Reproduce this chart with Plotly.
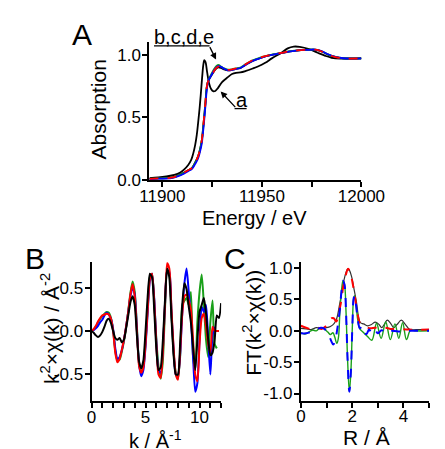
import plotly.graph_objects as go

W, H = 445, 449
FONT = "Liberation Sans"

# ---------------- Panel A data (XANES) ----------------
energy_a = [11893.5, 11898, 11902, 11906, 11909, 11911, 11913, 11914.5, 11915.5, 11916.5,
            11917.3, 11918, 11918.7, 11919.3, 11920, 11920.6, 11921.1, 11921.7, 11922.5, 11923.5,
            11924.5, 11925.5, 11926.6, 11928, 11930, 11932.9, 11935, 11937, 11939.2, 11942,
            11945.4, 11948, 11951.7, 11955, 11959.6, 11963, 11966, 11969, 11973.7, 11978,
            11981.6, 11985, 11989.5, 11995, 12000]
absorb_a = [0.015, 0.02, 0.028, 0.04, 0.06, 0.085, 0.12, 0.16, 0.21, 0.28,
            0.36, 0.46, 0.57, 0.68, 0.82, 0.92, 0.956, 0.94, 0.86, 0.77,
            0.725, 0.708, 0.71, 0.735, 0.78, 0.82, 0.845, 0.855, 0.858, 0.87,
            0.889, 0.905, 0.935, 0.97, 1.013, 1.05, 1.064, 1.062, 1.044, 1.015,
            0.992, 0.975, 0.968, 0.97, 0.97]

energy_b = [11893.5, 11898, 11904.6, 11908, 11910.8, 11913, 11914.8, 11916.5, 11917.9, 11919,
            11919.8, 11920.5, 11921.1, 11921.7, 11922.2, 11922.8, 11923.4, 11924.5, 11926, 11927.2,
            11928.2, 11929.5, 11931, 11932.9, 11935, 11937, 11939.2, 11942, 11945.4, 11948.5,
            11951.7, 11955, 11959.6, 11963.5, 11967.5, 11972, 11976.9, 11980, 11983.2, 11987,
            11991, 11995, 12000]
absorb_red = [0.008, 0.012, 0.018, 0.035, 0.057, 0.078, 0.095, 0.14, 0.186, 0.25,
              0.315, 0.42, 0.522, 0.63, 0.729, 0.78, 0.80, 0.83, 0.87, 0.895,
              0.904, 0.898, 0.886, 0.878, 0.882, 0.89, 0.896, 0.925, 0.956, 0.972,
              0.987, 1.0, 1.013, 1.025, 1.033, 1.038, 1.039, 1.025, 1.0, 0.98,
              0.97, 0.968, 0.97]
absorb_green = [0.008, 0.012, 0.018, 0.034, 0.055, 0.076, 0.093, 0.137, 0.182, 0.245,
                0.31, 0.41, 0.51, 0.62, 0.72, 0.78, 0.805, 0.84, 0.885, 0.91,
                0.918, 0.905, 0.89, 0.88, 0.883, 0.89, 0.897, 0.925, 0.955, 0.972,
                0.987, 1.0, 1.013, 1.025, 1.033, 1.038, 1.04, 1.027, 1.002, 0.982,
                0.971, 0.968, 0.97]
absorb_blue = [0.006, 0.01, 0.015, 0.03, 0.05, 0.07, 0.086, 0.128, 0.17, 0.23,
               0.29, 0.39, 0.49, 0.60, 0.70, 0.77, 0.80, 0.832, 0.875, 0.90,
               0.91, 0.902, 0.888, 0.875, 0.878, 0.886, 0.893, 0.92, 0.95, 0.968,
               0.985, 0.998, 1.012, 1.024, 1.032, 1.037, 1.04, 1.028, 1.003, 0.982,
               0.971, 0.968, 0.97]
absorb_black_b = [0.008, 0.012, 0.018, 0.035, 0.057, 0.078, 0.095, 0.14, 0.186, 0.25,
                  0.315, 0.42, 0.522, 0.63, 0.729, 0.78, 0.80, 0.83, 0.868, 0.89,
                  0.898, 0.893, 0.882, 0.874, 0.878, 0.886, 0.892, 0.92, 0.95, 0.968,
                  0.985, 0.998, 1.012, 1.024, 1.032, 1.037, 1.038, 1.025, 1.0, 0.98,
                  0.97, 0.968, 0.97]
energy_ticks = [11900, 11950, 12000]
energy_tick_text = ["11900", "11950", "12000"]

# ---------------- Panel B data (EXAFS k^2 chi) ----------------
k_grid = [0.0, 0.2, 0.4, 0.6, 0.8, 1.0, 1.2, 1.4, 1.6, 1.8,
          2.0, 2.2, 2.4, 2.6, 2.8, 3.0, 3.2, 3.4, 3.6, 3.8,
          4.0, 4.2, 4.4, 4.6, 4.8, 5.0, 5.2, 5.4, 5.6, 5.8,
          6.0, 6.2, 6.4, 6.6, 6.8, 7.0, 7.2, 7.4, 7.6, 7.8,
          8.0, 8.2, 8.4, 8.6, 8.8, 9.0, 9.2, 9.4, 9.6, 9.8,
          10.0, 10.2, 10.4, 10.6, 10.8, 11.0, 11.2, 11.4, 11.6, 11.8, 12.0]
chi_red = [0, .02, .06, .11, .15, .18, .19, .20, .19, .14,
           .00, -.25, -.36, -.32, -.22, -.10, .05, .22, .42, .54,
           .40, .00, -.40, -.48, -.42, -.15, .25, .60, .66, .35,
           -.15, -.50, -.54, -.25, .30, .78, .72, .25, -.20, -.50,
           -.56, -.25, .20, .40, .42, .35, .25, -.10, -.50, -.58,
           -.15, .15, .20, .05, -.15, -.25, .05, .00, .00, .00]
chi_blue = [0, .01, .03, .06, .10, .13, .18, .21, .19, .14,
            .02, -.20, -.32, -.30, -.22, -.10, .05, .22, .40, .50,
            .42, .02, -.38, -.52, -.45, -.18, .22, .58, .66, .38,
            -.12, -.45, -.48, -.22, .30, .70, .68, .22, -.22, -.50,
            -.52, -.28, .20, .55, .72, .45, .15, -.30, -.70, -.60,
            -.10, .28, .22, .30, -.10, -.50, -.05, .05]
chi_green = [0, .02, .05, .10, .14, .17, .20, .22, .21, .15,
             .01, -.23, -.34, -.33, -.24, -.12, .04, .23, .44, .57,
             .45, .05, -.38, -.48, -.40, -.12, .28, .62, .66, .36,
             -.10, -.40, -.55, -.35, .25, .70, .66, .20, -.25, -.48,
             -.55, -.30, .30, .35, .38, .30, .45, -.30, -.45, .10,
             .45, .65, .30, -.10, -.30, .10, .35, -.15, -.20]
chi_black = [0, -.02, -.05, -.07, -.05, -.01, .05, .12, .14, .09,
             .00, -.08, -.10, -.08, -.13, -.10, .03, .18, .33, .40,
             .30, -.05, -.35, -.43, -.34, .00, .40, .66, .62, .25,
             -.20, -.45, -.42, -.12, .35, .72, .62, .15, -.28, -.50,
             -.50, -.15, .30, .55, .48, .28, .10, -.18, -.45, -.10,
             .22, .30, .38, .20, -.10, -.28, -.25, -.10, .18, .15, .32]

# ---------------- Panel C data (Fourier transform) ----------------
r_black = [0.0, 0.2, 0.4, 0.6, 0.8, 1.0, 1.15, 1.3, 1.4, 1.5, 1.6, 1.68, 1.76, 1.83, 1.9,
           1.98, 2.08, 2.17, 2.25, 2.32, 2.45, 2.6, 2.75, 2.9, 3.05, 3.15, 3.25, 3.37, 3.5,
           3.62, 3.75, 3.92, 4.08, 4.25, 4.5, 5.0]
ft_black = [0.04, 0.03, 0.02, 0.05, 0.04, 0.05, 0.07, 0.12, 0.2, 0.40, 0.62, 0.81, 0.93, 0.99, 0.96,
            0.86, 0.65, 0.45, 0.22, 0.13, 0.11, 0.08, 0.10, 0.14, 0.10, 0.05, 0.10, 0.17, 0.12,
            0.05, 0.10, 0.17, 0.10, 0.02, 0.02, 0.02]
r_red = [0.0, 0.2, 0.36, 0.5, 0.66, 0.8, 0.96, 1.1, 1.2, 1.28, 1.38, 1.46, 1.56, 1.65, 1.74,
         1.84, 1.94, 2.04, 2.14, 2.22, 2.3, 2.4, 2.53, 2.7, 2.9, 3.1, 3.3, 3.5, 3.8, 4.2, 5.0]
ft_red = [0.08, 0.05, 0.03, 0.05, 0.05, 0.03, 0.07, 0.15, 0.2, 0.2, 0.15, 0.25, 0.45, 0.7, 0.87,
          0.99, 0.9, 0.71, 0.45, 0.25, 0.13, 0.12, 0.07, 0.04, 0.05, 0.04, 0.05, 0.03, 0.03, 0.02, 0.02]
r_green = [0.0, 0.15, 0.3, 0.45, 0.6, 0.75, 0.9, 1.05, 1.15, 1.25, 1.32, 1.4, 1.46, 1.52, 1.58,
           1.64, 1.70, 1.76, 1.82, 1.89, 1.95, 2.01, 2.06, 2.10, 2.16, 2.22, 2.3, 2.4, 2.5, 2.6,
           2.77, 2.95, 3.13, 3.31, 3.49, 3.67, 3.82, 3.97, 4.12, 4.28, 4.45, 5.0]
ft_green = [-0.03, -0.05, -0.02, 0.01, 0.0, 0.05, 0.03, -0.02, -0.06, -0.03, -0.1, -0.2, -0.12, 0.3, 0.62,
            0.80, 0.74, 0.30, -0.45, -0.97, -0.65, 0.1, 0.52, 0.56, 0.38, 0.17, 0.03, -0.01, -0.05, -0.09,
            -0.15, 0.12, -0.12, 0.14, -0.14, 0.11, -0.12, 0.13, -0.14, 0.01, 0.0, 0.0]
r_blue = [0.0, 0.2, 0.36, 0.54, 0.66, 0.78, 0.9, 0.98, 1.08, 1.18, 1.26, 1.33, 1.4, 1.46, 1.52,
          1.58, 1.64, 1.70, 1.76, 1.82, 1.89, 1.95, 2.01, 2.06, 2.10, 2.16, 2.22, 2.3, 2.38, 2.46,
          2.56, 2.66, 2.78, 2.9, 3.0, 3.15, 3.3, 3.5, 3.8, 4.2, 5.0]
ft_blue = [-0.04, -0.04, -0.02, 0.0, 0.03, 0.05, 0.04, 0.0, -0.06, -0.16, -0.22, -0.17, -0.02, 0.15, 0.35,
           0.62, 0.80, 0.74, 0.30, -0.45, -0.97, -0.65, 0.1, 0.52, 0.56, 0.38, 0.17, 0.04, 0.07, -0.03,
           -0.05, 0.02, -0.04, 0.01, -0.04, 0.01, -0.03, 0.0, -0.01, 0.0, 0.0]

RED, GREEN, BLUE, BLACK = "#ff0000", "#1aa01a", "#0000ff", "#000000"

fig = go.Figure()

# Panel A
fig.add_trace(go.Scatter(x=energy_a, y=absorb_a, mode="lines", line=dict(color=BLACK, width=1.8, shape="spline"), xaxis="x", yaxis="y"))
fig.add_trace(go.Scatter(x=energy_b, y=absorb_black_b, mode="lines", line=dict(color=BLACK, width=1.8, shape="spline"), xaxis="x", yaxis="y"))
fig.add_trace(go.Scatter(x=energy_b, y=absorb_green, mode="lines", line=dict(color=GREEN, width=1.8, shape="spline"), xaxis="x", yaxis="y"))
fig.add_trace(go.Scatter(x=energy_b, y=absorb_blue, mode="lines", line=dict(color=BLUE, width=1.8, shape="spline"), xaxis="x", yaxis="y"))
fig.add_trace(go.Scatter(x=energy_b, y=absorb_red, mode="lines", line=dict(color=RED, width=1.8, dash="dash", shape="spline"), xaxis="x", yaxis="y"))

# Panel B
fig.add_trace(go.Scatter(x=k_grid[:len(chi_green)], y=chi_green, mode="lines", line=dict(color=GREEN, width=2, shape="spline", smoothing=0.6), xaxis="x2", yaxis="y2"))
fig.add_trace(go.Scatter(x=k_grid[:len(chi_blue)], y=chi_blue, mode="lines", line=dict(color=BLUE, width=2, shape="spline", smoothing=0.6), xaxis="x2", yaxis="y2"))
fig.add_trace(go.Scatter(x=k_grid[:len(chi_red)], y=chi_red, mode="lines", line=dict(color=RED, width=2, shape="spline", smoothing=0.6), xaxis="x2", yaxis="y2"))
fig.add_trace(go.Scatter(x=k_grid[:len(chi_black)], y=chi_black, mode="lines", line=dict(color=BLACK, width=2, shape="spline", smoothing=0.6), xaxis="x2", yaxis="y2"))

# Panel C
fig.add_trace(go.Scatter(x=r_black, y=ft_black, mode="lines", line=dict(color="#333333", width=1.2, shape="spline"), xaxis="x3", yaxis="y3"))
fig.add_trace(go.Scatter(x=r_green, y=ft_green, mode="lines", line=dict(color=GREEN, width=1.4, shape="spline"), xaxis="x3", yaxis="y3"))
fig.add_trace(go.Scatter(x=r_red, y=ft_red, mode="lines", line=dict(color=RED, width=2, dash="dash", shape="spline"), xaxis="x3", yaxis="y3"))
fig.add_trace(go.Scatter(x=r_blue, y=ft_blue, mode="lines", line=dict(color=BLUE, width=2, dash="dash", shape="spline"), xaxis="x3", yaxis="y3"))


def px(X):
    return X / W


def py(Y):
    return 1 - Y / H


axis_common = dict(showline=True, linecolor="black", linewidth=2, ticks="outside", ticklen=5,
                   tickwidth=1.5, tickcolor="black", showgrid=False, zeroline=False,
                   tickfont=dict(family=FONT, size=17, color="black"))
minor_common = dict(ticks="outside", ticklen=5, tickwidth=1.5, tickcolor="black")

fig.update_layout(
    width=W, height=H, margin=dict(l=0, r=0, t=0, b=0),
    paper_bgcolor="white", plot_bgcolor="white", showlegend=False,
    xaxis=dict(domain=[px(143), px(372)], range=[11893.5, 12000], anchor="y",
               tickvals=energy_ticks, ticktext=energy_tick_text,
               minor=dict(tickvals=[11925, 11975], **minor_common),
               ticklabelstandoff=-5, **axis_common),
    yaxis=dict(domain=[py(174), py(32)], range=[0, 1.1], anchor="x",
               tickvals=[0, 0.5, 1.0], ticktext=["0.0", "0.5", "1.0"], ticklabelstandoff=-2, **axis_common),
    xaxis2=dict(domain=[px(80.5), px(220.5)], range=[0, 12], anchor="y2",
                tickvals=[0, 5, 10], minor=dict(dtick=1, **minor_common),
                ticklabelstandoff=-6, **axis_common),
    yaxis2=dict(domain=[py(402), py(258)], range=[-0.81, 0.80], anchor="x2",
                tickvals=[-0.5, 0, 0.5], ticktext=["-0.5", "0.0", "0.5"], ticklabelstandoff=-2, **axis_common),
    xaxis3=dict(domain=[px(306.7), 1.0], range=[0, 5], anchor="y3",
                tickvals=[0, 2, 4], minor=dict(dtick=1, **minor_common),
                ticklabelstandoff=-6, **axis_common),
    yaxis3=dict(domain=[py(401.7), py(258.3)], range=[-1.12, 1.10], anchor="x3",
                tickvals=[-1, -0.5, 0, 0.5, 1], ticktext=["-1.0", "-0.5", "0.0", "0.5", "1.0"],
                ticklabelstandoff=-2, **axis_common),
)

ann = []


def txt(X, Y, s, size, angle=0):
    ann.append(dict(x=px(X), y=py(Y), xref="paper", yref="paper", text=s, showarrow=False,
                    textangle=angle, xanchor="center", yanchor="middle",
                    font=dict(family=FONT, size=size, color="black")))


# panel letters
txt(70, 24, "A", 30)
txt(19, 255, "B", 30)
txt(236, 255, "C", 30)
# axis titles
txt(88, 101, "Absorption", 21, -90)
txt(256, 213, "Energy / eV", 20)
txt(35, 327, "k<sup>2</sup>×χ(k) / Å<sup>-2</sup>", 21, -90)
txt(150, 441, "k / Å<sup>-1</sup>", 20)
txt(254, 321, "FT(k<sup>2</sup>×χ(k))", 21, -90)
txt(377, 439, "R / Å", 21)
# curve labels
txt(180, 27, "b,c,d,e", 20)
txt(243, 92, "a", 20)

# arrows
ann.append(dict(x=11927, y=0.96, xref="x", yref="y", ax=-7, ay=-14, text="", showarrow=True,
                arrowhead=2, arrowsize=1, arrowwidth=1.3, arrowcolor="black"))
ann.append(dict(x=11929.3, y=0.705, xref="x", yref="y", ax=16, ay=17, text="", showarrow=True,
                arrowhead=2, arrowsize=1, arrowwidth=1.3, arrowcolor="black"))
fig.update_layout(annotations=ann)

fig.add_shape(type="line", xref="paper", yref="paper", x0=px(148), x1=px(208), y0=py(36), y1=py(36),
              line=dict(color="black", width=1.3))
fig.add_shape(type="line", xref="paper", yref="paper", x0=px(235), x1=px(248), y0=py(100.5), y1=py(100.5),
              line=dict(color="black", width=1.3))

fig.write_html("out.html")
